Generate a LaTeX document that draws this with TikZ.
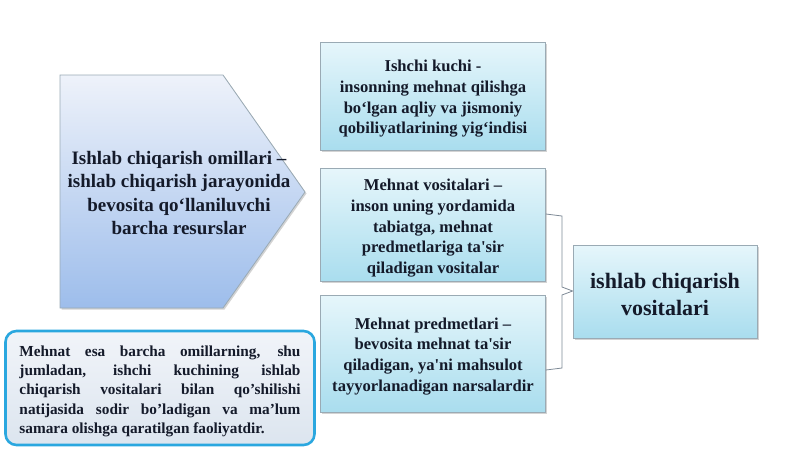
\documentclass[tikz,border=0pt]{standalone}
\usepackage{fontspec}
\setmainfont{Liberation Serif}[Ligatures=TeXOff]
\usetikzlibrary{shadows}
\hyphenpenalty=10000
\exhyphenpenalty=10000
\newcommand{\lowerby}[1]{\rule{0pt}{#1}}
\definecolor{boxtop}{HTML}{E6F6FB}
\definecolor{boxbot}{HTML}{A9DDEE}
\definecolor{boxline}{HTML}{9AAAB4}
\definecolor{pentop}{HTML}{EEF2FA}
\definecolor{penbot}{HTML}{9DBDEB}
\definecolor{txt}{HTML}{141A2A}
\definecolor{cyanline}{HTML}{2AA7DF}
\definecolor{notetop}{HTML}{F1F4F9}
\definecolor{notebot}{HTML}{DCE5EF}
\definecolor{brk}{HTML}{7E8A96}
\tikzset{
  x=1pt,y=1pt,
  infobox/.style={draw=boxline, line width=0.8pt, top color=boxtop, bottom color=boxbot,
    drop shadow={shadow xshift=1.5pt, shadow yshift=-1.5pt, opacity=0.35},
    align=center, text=txt, font=\bfseries\fontsize{16.6}{20.7}\selectfont, inner sep=0pt},
  brace/.style={draw=brk, line width=0.8pt},
}
\begin{document}
\begin{tikzpicture}
\useasboundingbox (0,0) rectangle (800,-450);
% pentagon arrow
\path[draw=boxline, line width=0.8pt, top color=pentop, bottom color=penbot,
  drop shadow={shadow xshift=1.5pt, shadow yshift=-1.5pt, opacity=0.35}]
  (60,-75) -- (223,-75) -- (305,-192) -- (223,-308) -- (60,-308) -- cycle;
\node[align=center, text=txt, font=\bfseries\fontsize{19}{23.3}\selectfont] (pent) at (179,-193)
  {Ishlab chiqarish omillari –\\ishlab chiqarish jarayonida\\bevosita qo‘llaniluvchi\\barcha resurslar};
% boxes
\node[infobox, minimum width=225, minimum height=108] (b1) at (433,-96)
  {\lowerby{17.5pt}Ishchi kuchi -\\insonning mehnat qilishga\\bo‘lgan aqliy va jismoniy\\qobiliyatlarining yig‘indisi};
\node[infobox, minimum width=225, minimum height=113] (b2) at (433,-225)
  {\lowerby{18pt}Mehnat vositalari –\\inson uning yordamida\\tabiatga, mehnat\\predmetlariga ta's{}ir\\qiladigan vositalar};
\node[infobox, minimum width=225, minimum height=117] (b3) at (433,-353.5)
  {\lowerby{17pt}Mehnat predmetlari –\\bevosita mehnat ta's{}ir\\qiladigan, ya'ni mahsulot\\tayyorlanadigan narsalardir};
\node[infobox, minimum width=184, minimum height=93, font=\bfseries\fontsize{22}{27}\selectfont] (r) at (665,-291.5)
  {\lowerby{21pt}ishlab chiqarish\\vositalari};
% brace
\coordinate (t1) at (562,-216);
\coordinate (t2) at (562,-287);
\coordinate (t3) at (562,-295);
\coordinate (t4) at (562,-368);
\draw[brace] (b2.east |- 0,-214) -- (t1) -- (t2) -- (r.west |- 0,-291);
\draw[brace] (r.west |- 0,-291) -- (t3) -- (t4) -- (b3.east |- 0,-370);
% note
\node[draw=cyanline, line width=2.6pt, rounded corners=11pt, top color=notetop, bottom color=notebot,
  minimum width=309, minimum height=114, text width=281, align=justify, text=txt,
  font=\bfseries\fontsize{15.3}{19.2}\selectfont, inner sep=0pt] (note) at (160,-388)
  {\lowerby{17pt}Mehnat esa barcha omillarning, shu\linebreak jumladan, ishchi kuchining ishlab\linebreak chiqarish vositalari bilan qo’shilishi\linebreak natijasida sodir bo’ladigan va ma’lum\linebreak samara olishga qaratilgan faoliyatdir.};
\end{tikzpicture}
\end{document}
